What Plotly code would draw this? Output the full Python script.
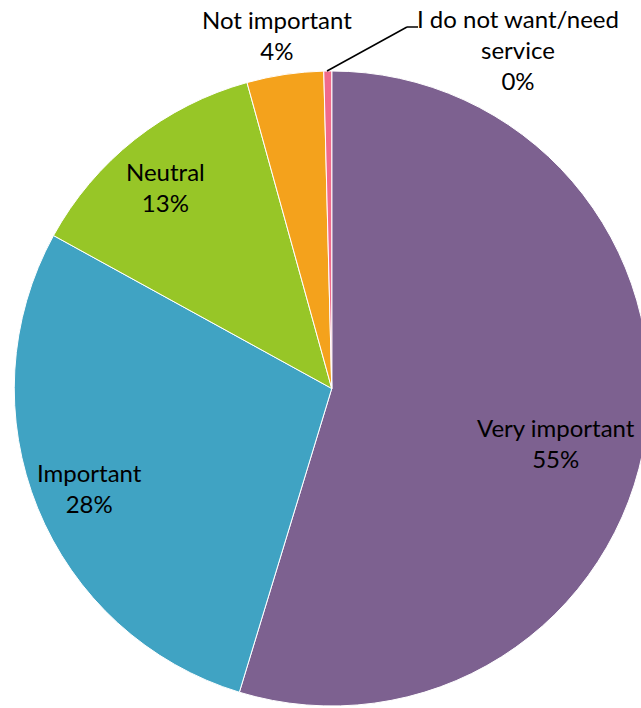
import plotly.graph_objects as go

# Figure is slightly wider than the 641px window: the reference pie is clipped
# at its right edge, so the overflow is hidden.
W, H = 650, 708

categories = ["Very important", "Important", "Neutral", "Not important",
              "I do not want/need service"]
values = [54.7, 28.3, 12.7, 3.9, 0.4]
colors = ["#7D6190", "#40A3C3", "#97C627", "#F4A21C", "#F06A8C"]

# label text for each slice (wrapped like the reference)
label_lines = ["Very important", "Important", "Neutral", "Not important",
               "I do not want/need<br>service"]
# label centres in pixels (x from left, y from top)
label_pos = [(556, 443), (89, 488), (165, 187), (277, 35), (518, 50)]

total = sum(values)
pct_text = [f"{round(v / total * 100)}%" for v in values]

fig = go.Figure(go.Pie(
    labels=categories,
    values=values,
    marker=dict(colors=colors, line=dict(color="white", width=1)),
    sort=False,
    direction="clockwise",
    rotation=0,
    textinfo="none",
    hoverinfo="label+percent",
    showlegend=False,
    domain=dict(x=[13.5 / W, 1.0], y=[2 / H, 637 / H]),
))

annotations = []
for lab, pct, (px, py) in zip(label_lines, pct_text, label_pos):
    annotations.append(dict(
        x=px / W, y=1 - py / H, xref="paper", yref="paper",
        text=f"{lab}<br>{pct}", showarrow=False,
        xanchor="center", yanchor="middle", align="center",
        font=dict(family="Lato, 'Open Sans', sans-serif", size=24, color="#000000"),
    ))

# leader line for the tiny slice
pts = [(327, 71), (407, 27), (418, 27)]
shapes = []
for (x0, y0), (x1, y1) in zip(pts[:-1], pts[1:]):
    shapes.append(dict(type="line", xref="paper", yref="paper",
                       x0=x0 / W, y0=1 - y0 / H, x1=x1 / W, y1=1 - y1 / H,
                       line=dict(color="#000000", width=1.5)))

fig.update_layout(
    width=W, height=H,
    margin=dict(l=0, r=0, t=0, b=0),
    paper_bgcolor="white", plot_bgcolor="white",
    annotations=annotations, shapes=shapes,
)

fig.write_html(
    "out.html",
    config={"displayModeBar": False},
    post_script="document.body.style.margin='0';document.body.style.overflow='hidden';",
)
